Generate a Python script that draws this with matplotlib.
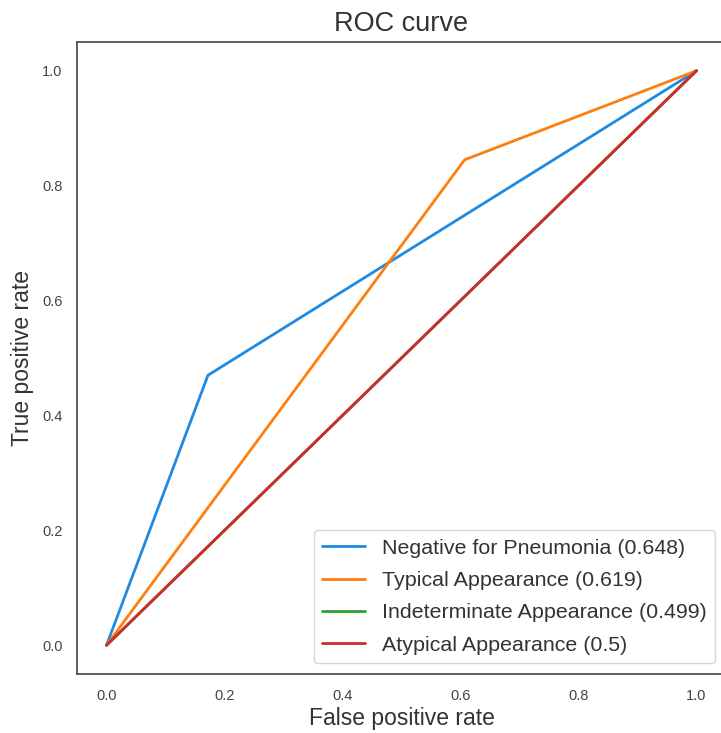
import matplotlib
matplotlib.use("Agg")
import matplotlib.pyplot as plt
import seaborn as sns

# ROC curve points per class (fpr, tpr) and AUC scores
classes = ['Negative for Pneumonia', 'Typical Appearance',
           'Indeterminate Appearance', 'Atypical Appearance']
auc_scores = [0.648, 0.619, 0.499, 0.5]
fpr_neg = [0.0, 0.172, 1.0]
tpr_neg = [0.0, 0.470, 1.0]
fpr_typ = [0.0, 0.607, 1.0]
tpr_typ = [0.0, 0.845, 1.0]
fpr_ind = [0.0, 1.0]
tpr_ind = [0.0, 1.0]
fpr_aty = [0.0, 1.0]
tpr_aty = [0.0, 1.0]

colors = ['#1f8ae0', '#ff7f0e', '#2ca02c', '#d02a2a']

sns.set_style('white')
plt.rcParams['font.family'] = ['Liberation Sans', 'DejaVu Sans']

fig = plt.figure(figsize=(7.21, 7.33), dpi=100)
ax = fig.add_axes([77 / 721, 59 / 733, 649 / 721, 632 / 733])

curves = [(fpr_neg, tpr_neg), (fpr_typ, tpr_typ), (fpr_ind, tpr_ind), (fpr_aty, tpr_aty)]
for (fpr, tpr), name, auc, c in zip(curves, classes, auc_scores, colors):
    ax.plot(fpr, tpr, color=c, lw=2, label=f'{name} ({auc})')

ax.set_xlim(-0.05, 1.05)
ax.set_ylim(-0.05, 1.05)
ax.set_xticks([0.0, 0.2, 0.4, 0.6, 0.8, 1.0])
ax.set_yticks([0.0, 0.2, 0.4, 0.6, 0.8, 1.0])
ax.tick_params(labelsize=10.5, colors='#444444', pad=7)
ax.set_xlabel('False positive rate', fontsize=16.5, color='#333333', labelpad=3)
ax.set_ylabel('True positive rate', fontsize=16.5, color='#333333', labelpad=6)
ax.set_title('ROC curve', fontsize=19.5, color='#333333', pad=8)
for s in ax.spines.values():
    s.set_color('#444444')
    s.set_linewidth(1.2)

ax.legend(loc='lower right', fontsize=15.4, labelspacing=0.62, frameon=True,
          labelcolor='#333333')

fig.savefig('out.png', dpi=100)
